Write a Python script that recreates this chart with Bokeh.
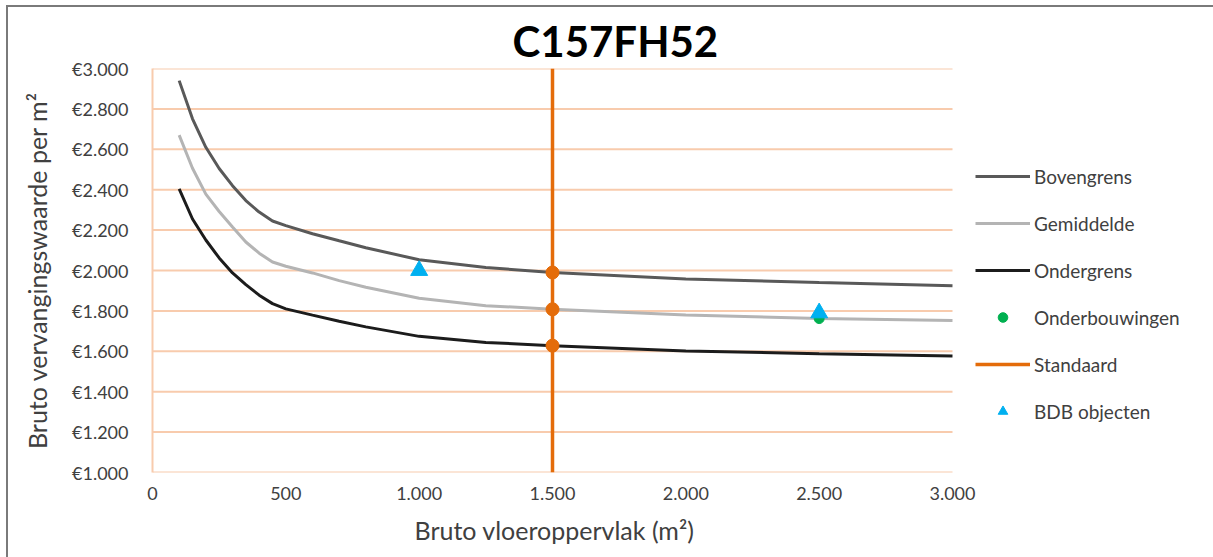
from bokeh.plotting import figure
from bokeh.models import Range1d, Legend, LegendItem, Title, FixedTicker
from bokeh.embed import file_html
from bokeh.resources import INLINE

# Bruto vloeroppervlak (m²) at which the curves are sampled
oppervlak = [100, 150, 200, 250, 300, 350, 400, 450, 500, 600, 700, 800,
             1000, 1250, 1500, 2000, 2500, 3000]
bovengrens = [2940, 2751, 2610, 2505, 2420, 2346, 2289, 2245, 2222, 2182, 2147, 2113,
              2053, 2015, 1990, 1958, 1940, 1925]
gemiddelde = [2670, 2506, 2378, 2292, 2215, 2141, 2086, 2042, 2021, 1988, 1950, 1917,
              1863, 1826, 1808, 1780, 1762, 1752]
ondergrens = [2404, 2255, 2151, 2062, 1988, 1930, 1878, 1836, 1810, 1779, 1749, 1721,
              1674, 1644, 1628, 1602, 1588, 1577]

# Standaard: vertical reference at 1.500 m² and its intersections with the curves
standaard_x = [1500, 1500]
standaard_y = [1000, 3000]
standaard_punt_x = [1500, 1500, 1500]
standaard_punt_y = [1990, 1808, 1628]

onderbouwingen_x = [2500]
onderbouwingen_y = [1762]

bdb_x = [1000, 2500]
bdb_y = [2000, 1790]

x_ticks = [0, 500, 1000, 1500, 2000, 2500, 3000]
x_labels = ["0", "500", "1.000", "1.500", "2.000", "2.500", "3.000"]
y_ticks = [1000, 1200, 1400, 1600, 1800, 2000, 2200, 2400, 2600, 2800, 3000]
y_labels = ["€1.000", "€1.200", "€1.400", "€1.600", "€1.800", "€2.000",
            "€2.200", "€2.400", "€2.600", "€2.800", "€3.000"]

FONT = "Lato"
TEXT = "#404040"
GRID = "#F8CBAD"

X_MAX = x_ticks[-1]
# the plot area runs on to the right edge so the legend can sit beside the axes;
# 800 px of it covers 0..3.000 m²
PLOT_LEFT, PLOT_W, FIG_W = 152, 800, 1213
x_end = X_MAX * (FIG_W - PLOT_LEFT) / PLOT_W

p = figure(width=FIG_W, height=557,
           x_range=Range1d(0, x_end), y_range=Range1d(y_ticks[0], y_ticks[-1]),
           output_backend="svg", toolbar_location=None,
           min_border_left=PLOT_LEFT, min_border_right=0,
           min_border_top=68, min_border_bottom=85)
p.title = Title(text="C157FH52", align="left", offset=360, standoff=5,
                text_font=FONT, text_font_size="42px", text_font_style="bold",
                text_color="black")
p.outline_line_color = None
p.border_fill_alpha = 0
p.styles = {"background-color": "white",
            "box-shadow": "inset 6px 5px 0 0 white, inset 8px 7px 0 0 #7a7a7a"}

for ax, ticks, labels in ((p.xaxis, x_ticks, x_labels), (p.yaxis, y_ticks, y_labels)):
    ax.ticker = FixedTicker(ticks=ticks)
    ax.major_label_overrides = {t: l for t, l in zip(ticks, labels)}
    ax.major_tick_in = 0
    ax.major_tick_out = 0
    ax.minor_tick_line_color = None
    ax.major_label_text_font = FONT
    ax.major_label_text_color = TEXT
    ax.major_label_text_font_size = "18px"
    ax.axis_label_text_font = FONT
    ax.axis_label_text_font_style = "normal"
    ax.axis_label_text_color = TEXT

p.xaxis.axis_line_color = None
p.yaxis.axis_line_color = GRID
p.yaxis.axis_line_width = 2
p.xaxis.major_label_standoff = 14
p.yaxis.major_label_standoff = 24
p.yaxis.axis_label = "Bruto vervangingswaarde per m²"
p.yaxis.axis_label_text_font_size = "25px"
p.yaxis.axis_label_standoff = 17

# x-axis title, centred under the 0..3.000 part of the axis
p.add_layout(Title(text="Bruto vloeroppervlak (m²)", align="left", offset=262, standoff=20,
                   text_font=FONT, text_font_size="25px", text_font_style="normal",
                   text_color=TEXT), "below")

# horizontal gridlines only across 0..3.000 m²
p.xgrid.visible = False
p.ygrid.visible = False
p.segment(x0=[0] * len(y_ticks), x1=[X_MAX] * len(y_ticks), y0=y_ticks, y1=y_ticks,
          line_color=GRID, line_width=2)

r_boven = p.line(oppervlak, bovengrens, line_color="#595959", line_width=3)
r_gem = p.line(oppervlak, gemiddelde, line_color="#B4B4B4", line_width=3)
r_onder = p.line(oppervlak, ondergrens, line_color="#1c1c1c", line_width=3)
r_std = p.line(standaard_x, standaard_y, line_color="#E46C0A", line_width=3.5)
p.scatter(standaard_punt_x, standaard_punt_y, marker="circle", size=13,
          fill_color="#E46C0A", line_color="#E46C0A")
r_onderb = p.scatter(onderbouwingen_x, onderbouwingen_y, marker="circle", size=10,
                     fill_color="#00B050", line_color="#00B050")
r_bdb = p.scatter(bdb_x, bdb_y, marker="triangle", size=17,
                  fill_color="#00B0F0", line_color="#00B0F0")

legend = Legend(items=[
    LegendItem(label="Bovengrens", renderers=[r_boven]),
    LegendItem(label="Gemiddelde", renderers=[r_gem]),
    LegendItem(label="Ondergrens", renderers=[r_onder]),
    LegendItem(label="Onderbouwingen", renderers=[r_onderb]),
    LegendItem(label="Standaard", renderers=[r_std]),
    LegendItem(label="BDB objecten", renderers=[r_bdb]),
], location=(823, 49), orientation="vertical")
legend.margin = 0
legend.padding = 10
legend.border_line_color = None
legend.background_fill_alpha = 0
legend.glyph_width = 55
legend.glyph_height = 24
legend.label_height = 24
legend.label_standoff = 4
legend.spacing = 23
legend.label_text_font = FONT
legend.label_text_font_size = "19px"
legend.label_text_color = TEXT
p.add_layout(legend)

open("out.html", "w").write(file_html(p, INLINE))
